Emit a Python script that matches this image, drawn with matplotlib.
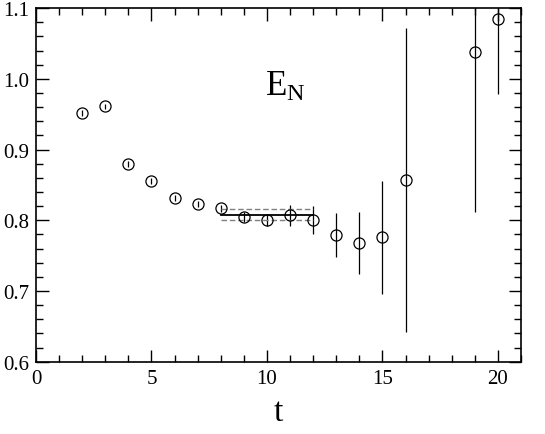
import matplotlib
matplotlib.use("Agg")
import matplotlib.pyplot as plt
from matplotlib.ticker import MultipleLocator

t = [2, 3, 4, 5, 6, 7, 8, 9, 10, 11, 12, 13, 14, 15, 16, 19, 20]
E = [0.952, 0.961, 0.880, 0.856, 0.832, 0.823, 0.817, 0.805, 0.800, 0.807, 0.800,
     0.779, 0.768, 0.776, 0.857, 1.038, 1.084]
err = [0.004, 0.004, 0.004, 0.004, 0.004, 0.004, 0.005, 0.007, 0.008, 0.015, 0.02,
       0.031, 0.044, 0.080, 0.215, 0.226, 0.105]
fit_t = [8, 12]
fit_val = 0.808
fit_err = 0.008

plt.rcParams['font.family'] = ['Liberation Serif', 'DejaVu Serif']
plt.rcParams['mathtext.fontset'] = 'custom'
plt.rcParams['mathtext.rm'] = 'Liberation Serif'
plt.rcParams['mathtext.it'] = 'Liberation Serif:italic'
fig = plt.figure(figsize=(5.45, 4.35), dpi=100)
ax = fig.add_axes([0.066, 0.166, 0.89, 0.813])

ax.errorbar(t, E, yerr=err, fmt='o', mfc='none', mec='black', ecolor='black',
            ms=8, mew=0.9, elinewidth=0.9, capsize=0)
ax.plot(fit_t, [fit_val, fit_val], color='black', lw=1.3)
ax.plot(fit_t, [fit_val + fit_err] * 2, color='gray', lw=1.0, ls='--', dashes=(4, 2))
ax.plot(fit_t, [fit_val - fit_err] * 2, color='gray', lw=1.0, ls='--', dashes=(4, 2))

ax.set_xlim(0, 21)
ax.set_ylim(0.6, 1.1)
ax.xaxis.set_major_locator(MultipleLocator(5))
ax.xaxis.set_minor_locator(MultipleLocator(1))
ax.yaxis.set_major_locator(MultipleLocator(0.1))
ax.yaxis.set_minor_locator(MultipleLocator(0.02))
ax.yaxis.set_major_formatter(matplotlib.ticker.FormatStrFormatter('%.1f'))
ax.tick_params(which='both', direction='in', top=True, right=True, labelsize=15, width=1.0)
ax.tick_params(which='major', length=9, pad=5)
ax.tick_params(which='minor', length=5)
for s in ax.spines.values():
    s.set_linewidth(1.2)

ax.text(10.8, 0.99, r'E$_\mathrm{N}$', fontsize=25, ha='center', va='center')
ax.set_xlabel('t', fontsize=24, labelpad=6)

fig.savefig('out.png', dpi=100)
